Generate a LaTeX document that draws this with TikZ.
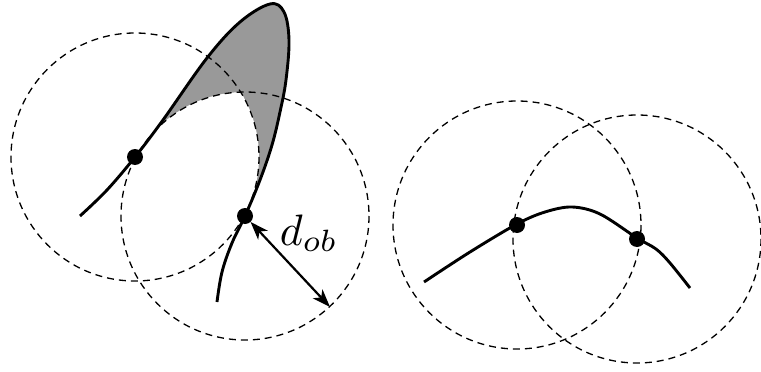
\documentclass[tikz,border=0pt]{standalone}
\usetikzlibrary{arrows.meta,calc}
\definecolor{shadegray}{RGB}{153,153,153}
\begin{document}
\begin{tikzpicture}[x=1pt,y=-1pt,
  dcirc/.style={draw, dash pattern=on 7pt off 5pt, line width=1.3pt},
  thickcurve/.style={line width=2.9pt},
  dot/.style={circle, fill=black, inner sep=0pt, minimum size=16pt},
  dimarrow/.style={line width=2.2pt, {Stealth[length=18pt,width=13pt,inset=5pt]}-{Stealth[length=18pt,width=13pt,inset=5pt]}}]
\useasboundingbox (0,0) rectangle (761,372);
% centres
\coordinate (A) at (135,157);
\coordinate (B) at (245,216);
\coordinate (C) at (517,225);
\coordinate (D) at (637,239);
\coordinate (E) at (330,307);
% gray region
\fill[shadegray] plot[smooth,tension=0.6] coordinates {(135,157) (163,120) (207,58) (240,22) (270,4) (284,12) (289,40) (286,80) (280,112) (272,145) (260,180) (245,216)} -- cycle;
\begin{scope}
  \clip (A) circle (124);
  \fill[white] (B) circle (124);
\end{scope}
% dashed circles
\draw[dcirc] (A) circle (124);
\draw[dcirc] (B) circle (124);
\draw[dcirc] (C) circle (124);
\draw[dcirc] (D) circle (124);
% curves
\draw[thickcurve] plot[smooth,tension=0.6] coordinates {(80,216) (107,190) (135,157) (163,120) (207,58) (240,22) (270,4) (284,12) (289,40) (286,80) (280,112) (272,145) (260,180) (245,216) (232,243) (222,272) (217,302)};
\draw[thickcurve] plot[smooth,tension=0.55] coordinates {(424,282) (470,252) (517,224) (545,212) (572,207) (600,214) (637,238) (656,249) (670,263) (690,288)};
% dots
\node[dot] (a) at (A) {};
\node[dot] (b) at (B) {};
\node[dot] (c) at (C) {};
\node[dot] (d) at (D) {};
% dimension arrow
\draw[dimarrow] (b) -- (E);
\node[anchor=base west, inner sep=0pt, scale=4.4] (lbl) at (279,245) {$d_{ob}$};
\end{tikzpicture}
\end{document}
